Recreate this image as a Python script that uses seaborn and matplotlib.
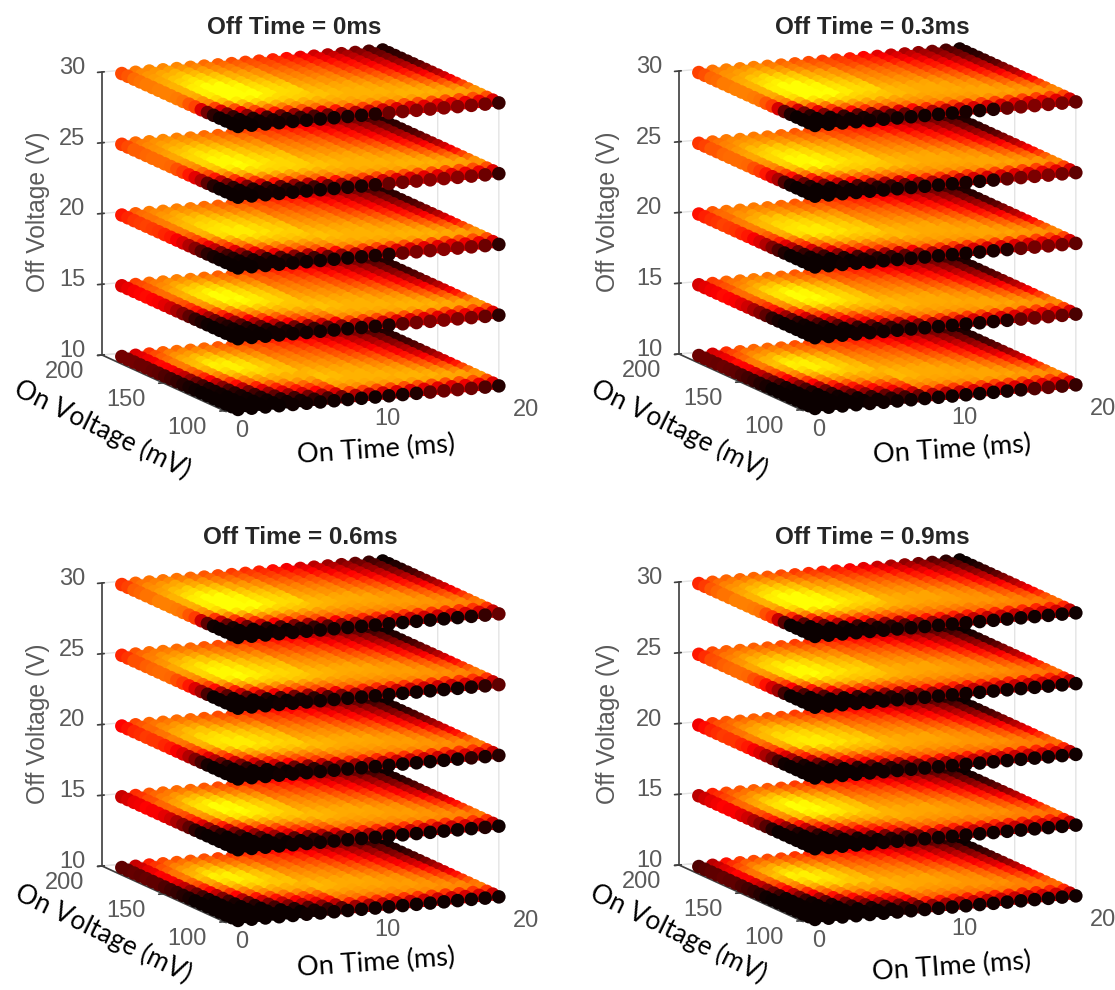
import numpy as np
import seaborn as sns
import matplotlib
matplotlib.use('Agg')
import matplotlib.pyplot as plt
from mpl_toolkits.mplot3d import proj3d

# axes values
on_time = [1, 2, 3, 4, 5, 6, 7, 8, 9, 10, 11, 12, 13, 14, 15, 16, 17, 18, 19, 20]
on_voltage = [195, 190, 185, 180, 175, 170, 165, 160, 155, 150,
              145, 140, 135, 130, 125, 120, 115, 110, 105, 100]
off_voltage = [30, 25, 20, 15, 10]
time_ticks = [0, 10, 20]
voltage_ticks = [100, 150, 200]
off_ticks = [10, 15, 20, 25, 30]
titles = ['Off Time = 0ms', 'Off Time = 0.3ms', 'Off Time = 0.6ms', 'Off Time = 0.9ms']
time_labels = ['On Time (ms)', 'On Time (ms)', 'On Time (ms)', 'On TIme (ms)']

# colour values, rows = on voltage 195..105, first 9 on times
left_30 = [
    [45, 52, 54, 54, 54, 52, 50, 48, 46],
    [47, 54, 56, 57, 56, 54, 52, 50, 48],
    [50, 56, 58, 60, 59, 57, 54, 52, 50],
    [51, 57, 60, 62, 61, 59, 56, 54, 52],
    [52, 58, 62, 65, 64, 62, 59, 57, 55],
    [52, 59, 64, 67, 66, 64, 60, 58, 56],
    [53, 60, 66, 69, 68, 66, 62, 60, 58],
    [53, 60, 68, 72, 71, 68, 64, 62, 60],
    [53, 60, 69, 73, 73, 70, 66, 64, 62],
    [52, 60, 69, 74, 74, 70, 67, 65, 64],
    [51, 59, 68, 74, 74, 71, 68, 66, 65],
    [47, 56, 66, 73, 73, 71, 68, 66, 65],
    [44, 54, 62, 68, 69, 68, 66, 65, 64],
    [30, 44, 56, 62, 65, 65, 64, 64, 63],
    [15, 30, 46, 54, 59, 60, 60, 60, 60],
    [5, 17, 33, 45, 51, 53, 55, 56, 57],
    [1, 6, 18, 30, 38, 43, 47, 50, 52],
    [0, 1, 3, 8, 14, 20, 26, 32, 38],
    [0, 0, 1, 2, 3, 6, 9, 14, 20],
]
left_25 = [
    [43, 50, 53, 54, 53, 52, 50, 48, 46],
    [45, 52, 55, 56, 55, 54, 52, 50, 48],
    [48, 54, 57, 58, 57, 56, 54, 52, 50],
    [48, 55, 59, 60, 60, 58, 56, 54, 52],
    [49, 56, 61, 63, 63, 61, 58, 56, 55],
    [50, 57, 62, 65, 64, 63, 60, 58, 56],
    [50, 58, 64, 67, 67, 65, 62, 60, 59],
    [50, 58, 65, 68, 68, 66, 63, 61, 60],
    [49, 57, 65, 70, 70, 68, 65, 63, 62],
    [46, 56, 65, 70, 70, 68, 66, 64, 63],
    [43, 54, 64, 70, 71, 69, 67, 65, 64],
    [38, 50, 62, 68, 70, 68, 66, 65, 64],
    [31, 45, 58, 64, 66, 66, 65, 65, 64],
    [24, 38, 52, 60, 64, 64, 64, 64, 63],
    [12, 26, 42, 52, 57, 59, 59, 60, 60],
    [4, 15, 31, 42, 49, 52, 54, 55, 56],
    [1, 5, 16, 28, 37, 42, 46, 49, 51],
    [0, 1, 3, 7, 13, 19, 25, 31, 37],
    [0, 0, 1, 2, 3, 5, 8, 13, 19],
]
left_20 = [
    [38, 48, 52, 53, 53, 52, 50, 48, 46],
    [40, 50, 54, 55, 55, 54, 52, 50, 48],
    [42, 51, 56, 58, 57, 56, 54, 52, 50],
    [43, 51, 57, 60, 60, 58, 56, 54, 52],
    [44, 52, 59, 62, 63, 61, 59, 57, 55],
    [43, 52, 60, 63, 64, 63, 61, 59, 57],
    [42, 53, 61, 65, 66, 65, 63, 61, 59],
    [40, 52, 61, 66, 67, 66, 64, 62, 60],
    [38, 51, 61, 67, 68, 68, 66, 64, 62],
    [34, 48, 60, 67, 68, 68, 66, 64, 63],
    [30, 45, 58, 66, 68, 68, 67, 65, 64],
    [24, 39, 53, 61, 65, 66, 65, 64, 64],
    [18, 32, 47, 56, 61, 63, 63, 63, 63],
    [11, 26, 42, 52, 58, 60, 61, 61, 61],
    [5, 16, 31, 44, 51, 54, 56, 57, 58],
    [2, 8, 20, 33, 43, 48, 51, 53, 55],
    [1, 3, 9, 20, 32, 39, 44, 47, 50],
    [0, 1, 2, 5, 11, 18, 24, 30, 36],
    [0, 0, 1, 1, 3, 5, 8, 13, 19],
]
left_15 = [
    [30, 44, 50, 52, 53, 52, 50, 48, 46],
    [32, 45, 52, 55, 56, 55, 53, 51, 48],
    [34, 47, 54, 58, 59, 58, 55, 53, 51],
    [35, 48, 56, 61, 63, 62, 59, 56, 53],
    [36, 50, 58, 64, 66, 65, 62, 59, 56],
    [35, 50, 59, 66, 69, 68, 64, 61, 58],
    [34, 50, 60, 67, 71, 70, 66, 63, 60],
    [31, 48, 59, 67, 71, 70, 67, 64, 61],
    [28, 46, 58, 66, 71, 71, 68, 65, 62],
    [23, 42, 56, 64, 69, 70, 68, 65, 63],
    [18, 38, 54, 62, 67, 68, 67, 65, 63],
    [12, 30, 47, 56, 62, 64, 64, 63, 63],
    [6, 22, 40, 50, 57, 60, 61, 62, 62],
    [3, 14, 30, 44, 52, 56, 58, 59, 60],
    [1, 7, 20, 34, 44, 49, 53, 55, 57],
    [0, 3, 11, 24, 35, 42, 47, 50, 53],
    [0, 1, 4, 13, 25, 34, 40, 44, 48],
    [0, 0, 1, 3, 8, 15, 22, 28, 34],
    [0, 0, 0, 1, 2, 4, 7, 12, 18],
]
left_10 = [
    [15, 30, 42, 48, 50, 50, 49, 47, 45],
    [15, 31, 45, 52, 54, 54, 52, 50, 48],
    [15, 33, 48, 55, 57, 57, 54, 52, 50],
    [14, 34, 50, 58, 61, 61, 58, 55, 52],
    [14, 36, 52, 60, 64, 64, 61, 58, 55],
    [13, 35, 52, 61, 67, 67, 64, 60, 57],
    [12, 34, 52, 62, 69, 69, 66, 62, 59],
    [10, 30, 49, 60, 68, 69, 67, 63, 60],
    [8, 26, 46, 58, 66, 69, 67, 64, 61],
    [6, 20, 40, 54, 63, 66, 66, 63, 62],
    [4, 14, 34, 50, 59, 63, 64, 63, 62],
    [2, 8, 26, 42, 53, 58, 60, 60, 60],
    [1, 3, 18, 36, 49, 55, 58, 60, 60],
    [0, 2, 10, 26, 40, 48, 53, 56, 57],
    [0, 1, 5, 16, 31, 40, 46, 49, 52],
    [0, 0, 2, 8, 21, 31, 38, 43, 47],
    [0, 0, 1, 3, 12, 21, 29, 35, 41],
    [0, 0, 0, 1, 3, 8, 15, 22, 29],
    [0, 0, 0, 0, 1, 2, 5, 9, 15],
]
lefts = [left_30, left_25, left_20, left_15, left_10]

# the later on times look the same on every level
right_part = [
    [44, 42, 39, 36, 32, 28, 24, 20, 16, 10, 3],
    [46, 44, 41, 38, 35, 31, 27, 23, 18, 12, 4],
    [47, 45, 43, 41, 37, 33, 30, 25, 21, 14, 5],
    [49, 47, 45, 43, 40, 36, 33, 28, 23, 16, 6],
    [50, 49, 47, 46, 43, 39, 36, 31, 26, 18, 8],
    [52, 51, 49, 48, 45, 41, 38, 34, 29, 21, 10],
    [54, 53, 51, 50, 47, 44, 41, 37, 32, 24, 12],
    [55, 54, 53, 52, 49, 47, 44, 39, 34, 27, 16],
    [57, 56, 55, 54, 51, 49, 47, 42, 37, 30, 20],
    [58, 57, 56, 56, 54, 52, 49, 45, 40, 34, 24],
    [60, 59, 58, 58, 56, 54, 52, 48, 44, 38, 28],
    [61, 60, 59, 59, 58, 56, 55, 51, 47, 41, 33],
    [62, 61, 60, 60, 59, 58, 57, 54, 50, 46, 38],
    [62, 61, 60, 60, 60, 59, 59, 57, 54, 50, 44],
    [60, 60, 60, 60, 60, 60, 60, 59, 57, 54, 50],
    [58, 58, 59, 59, 59, 60, 60, 60, 59, 58, 55],
    [54, 55, 55, 56, 57, 57, 58, 58, 58, 57, 56],
    [44, 44, 45, 45, 46, 46, 46, 46, 46, 46, 46],
    [24, 26, 28, 30, 30, 31, 31, 31, 32, 32, 30],
]

# front row (100 mV) of every level, one block per off time
front_0ms = [
    [0, 0, 1, 1, 1, 1, 1, 1, 2, 2, 3, 14, 16, 18, 18, 18, 18, 17, 15, 7],
    [0, 0, 1, 1, 1, 1, 1, 1, 2, 2, 3, 13, 15, 17, 18, 18, 18, 17, 14, 6],
    [0, 0, 1, 1, 1, 1, 1, 1, 1, 2, 2, 3, 14, 16, 17, 18, 18, 17, 14, 5],
    [0, 0, 0, 1, 1, 1, 1, 1, 1, 2, 2, 3, 12, 15, 17, 17, 17, 16, 13, 5],
    [0, 0, 0, 0, 1, 1, 1, 1, 1, 1, 1, 2, 2, 3, 12, 14, 15, 14, 10, 4],
]
front_03ms = [
    [0, 0, 1, 1, 1, 1, 1, 1, 1, 1, 1, 2, 2, 3, 13, 16, 17, 17, 16, 13],
    [0, 0, 1, 1, 1, 1, 1, 1, 1, 1, 1, 2, 2, 3, 12, 15, 16, 17, 15, 12],
    [0, 0, 1, 1, 1, 1, 1, 1, 1, 1, 1, 1, 2, 2, 3, 13, 15, 16, 15, 12],
    [0, 0, 0, 1, 1, 1, 1, 1, 1, 1, 1, 1, 2, 2, 3, 12, 14, 15, 13, 9],
    [0, 0, 0, 0, 1, 1, 1, 1, 1, 1, 1, 1, 1, 1, 2, 3, 10, 12, 9, 6],
]
front_06ms = [
    [0, 0, 0, 1, 1, 1, 1, 1, 1, 1, 1, 1, 1, 1, 1, 1, 1, 2, 6, 13],
    [0, 0, 0, 1, 1, 1, 1, 1, 1, 1, 1, 1, 1, 1, 1, 1, 1, 2, 5, 12],
    [0, 0, 0, 1, 1, 1, 1, 1, 1, 1, 1, 1, 1, 1, 1, 1, 1, 5, 2, 4],
    [0, 0, 0, 0, 1, 1, 1, 1, 1, 1, 1, 1, 1, 1, 1, 1, 1, 1, 3, 1],
    [0, 0, 0, 0, 0, 1, 1, 1, 1, 1, 1, 1, 1, 1, 1, 1, 1, 1, 1, 1],
]
front_09ms = [
    [0, 0, 0, 1, 1, 1, 1, 1, 1, 1, 1, 1, 1, 1, 1, 1, 1, 1, 1, 1],
    [0, 0, 0, 1, 1, 1, 1, 1, 1, 1, 1, 1, 1, 1, 1, 1, 1, 1, 1, 1],
    [0, 0, 0, 0, 1, 1, 1, 1, 1, 1, 1, 1, 1, 1, 1, 1, 1, 1, 1, 1],
    [0, 0, 0, 0, 0, 1, 1, 1, 1, 1, 1, 1, 1, 1, 1, 1, 1, 1, 1, 1],
    [0, 0, 0, 0, 0, 0, 1, 1, 1, 1, 1, 1, 1, 1, 1, 1, 1, 1, 1, 1],
]
fronts = [front_0ms, front_03ms, front_06ms, front_09ms]

# how much darker each on voltage row gets with longer off time
row_drop = [
    [0, 0, 0, 0, 0, 0, 0, 0, 0, 0, 0, 0, 0, 0, 0, 0, 0, 0, 0, 0],
    [1, 1, 1, 1, 0, 0, 0, 0, 0, 0, 0, 0, 1, 1, 2, 2, 2, 2, 1, 0],
    [3, 3, 2, 2, 1, 1, 0, 0, 0, 0, 0, 0, 1, 2, 3, 4, 4, 4, 3, 0],
    [5, 4, 3, 2, 1, 1, 0, 0, 0, 0, 0, 1, 2, 3, 4, 6, 6, 6, 4, 0],
]

sns.set_theme(style='white')
plt.rcParams['font.family'] = ['Liberation Sans', 'DejaVu Sans']
plt.rcParams['grid.color'] = '#e4e4e4'
plt.rcParams['grid.linewidth'] = 1.0
hot = sns.color_palette('hot', as_cmap=True)

W, H = 1115, 990
fig = plt.figure(figsize=(W / 100, H / 100), dpi=100, facecolor='white')

# where the foot of the z axis sits in each panel, in image pixels
feet = [(102, 355), (679, 354), (102, 866), (679, 865)]
title_pos = [(294, 27), (872, 27), (300, 537), (872, 537)]
off_label_pos = [(38, 212), (608, 212), (38, 724), (608, 724)]
on_label_pos = [(102, 430), (679, 430), (103, 934), (678, 934)]
time_label_pos = [(376, 450), (952, 450), (376, 963), (952, 967)]
time_tick_offset = [(17, 20), (26, 21), (27, 24)]
SIDE = 560


def data_px(ax, x, y, z):
    ax.apply_aspect()
    px, py, _ = proj3d.proj_transform(x, y, z, ax.get_proj())
    return ax.transData.transform((px, py))


def put_text(pos, s, **kw):
    fig.text(pos[0] / W, 1 - pos[1] / H, s, ha='center', va='center', **kw)


def tick_text(ax, point, off, s):
    # tick label placed from where the tick falls on screen, off in image pixels
    px = data_px(ax, *point)
    fig.text((px[0] + off[0]) / W, (px[1] - off[1]) / H, s, fontsize=17, color='#5a5a5a',
             ha='center', va='center')


for p, foot in enumerate(feet):
    ax = fig.add_axes([0.1, 0.1, SIDE / W, SIDE / H], projection='3d', proj_type='ortho')
    ax.set_facecolor('none')
    ax.view_init(elev=11.7, azim=-114)

    xs, ys, zs, cs = [], [], [], []
    for k, z in enumerate(off_voltage):
        grid = np.hstack([lefts[k], right_part])
        grid = np.vstack([grid, fronts[p][k]]).astype(float)
        grid = np.clip(grid - np.array(row_drop[p])[:, None], 0, 71)
        tt, vv = np.meshgrid(on_time, on_voltage)
        xs.append(tt.ravel())
        ys.append(vv.ravel())
        zs.append(np.full(tt.size, z))
        cs.append(grid.ravel())
    ax.scatter(np.concatenate(xs), np.concatenate(ys), np.concatenate(zs),
               c=np.concatenate(cs), cmap=hot, vmin=0, vmax=95, s=95,
               linewidths=0, depthshade=False)

    ax.set_xlim(0, 20, view_margin=0)
    ax.set_ylim(100, 200, view_margin=0)
    ax.set_zlim(10, 30, view_margin=0)
    ax.set_xticks(time_ticks)
    ax.set_yticks(voltage_ticks)
    ax.set_zticks(off_ticks)
    ax.set_xticklabels([])
    ax.set_yticklabels([])
    ax.set_zticklabels([])
    ax.grid(True)
    for axis in (ax.xaxis, ax.yaxis, ax.zaxis):
        axis.pane.set_visible(False)
        axis.line.set_color('#404040')
        axis.line.set_linewidth(1.2)
    ax.tick_params(axis='both', color='#404040')

    # scale so 20 V of z axis is 283 px, then slide the axes onto its foot
    ax.set_box_aspect((1.04, 1.04, 1), zoom=1)
    d = data_px(ax, 0, 200, 30)[1] - data_px(ax, 0, 200, 10)[1]
    ax.set_box_aspect((1.04, 1.04, 1), zoom=283 / d)
    fx, fy = data_px(ax, 0, 200, 10)
    box = ax.get_position()
    ax.set_position([box.x0 + (foot[0] - fx) / W, box.y0 + ((H - foot[1]) - fy) / H,
                     box.width, box.height])

    for t, off in zip(time_ticks, time_tick_offset):
        tick_text(ax, (t, 100, 10), off, str(t))
    for v in voltage_ticks:
        tick_text(ax, (0, v, 10), (-37, 17), str(v))
    for z in off_ticks:
        tick_text(ax, (0, 200, z), (-30, -4), str(z))

    put_text(title_pos[p], titles[p], fontsize=17.5, fontweight='bold', color='#262626')
    put_text(off_label_pos[p], 'Off Voltage (V)', fontsize=17.7, rotation=90, color='#5a5a5a')
    put_text(on_label_pos[p], 'On Voltage (mV)', fontsize=19, family=['Lato', 'DejaVu Sans'],
             rotation=-26, color='black')
    put_text(time_label_pos[p], time_labels[p], fontsize=19.5, family=['Lato', 'DejaVu Sans'],
             rotation=4, color='black')

fig.savefig('out.png', dpi=100, facecolor='white')
